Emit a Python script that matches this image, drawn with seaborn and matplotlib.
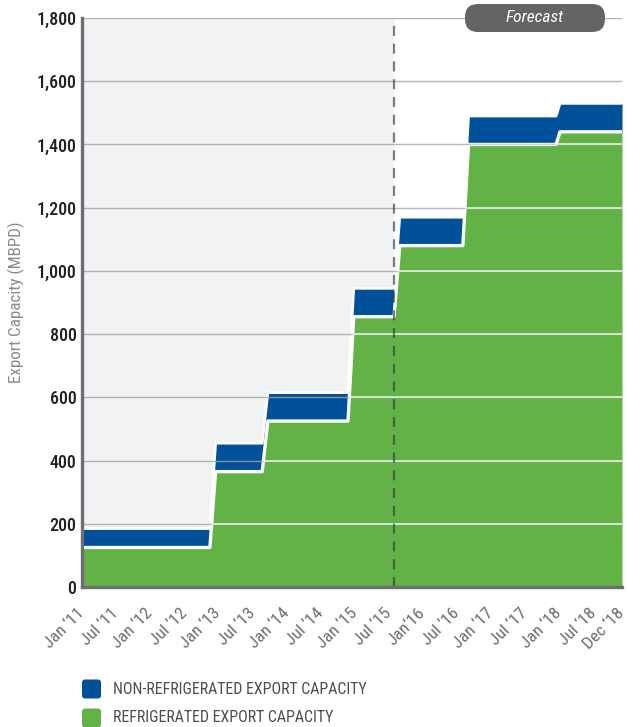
import matplotlib
matplotlib.use("Agg")
import matplotlib.pyplot as plt
import matplotlib.patches as mpatches
from matplotlib.transforms import IdentityTransform
import pandas as pd
import seaborn as sns

# Build-out timeline, in months after January 2011
months = [0, 22.5, 23.5, 31.7, 32.7, 46.8, 47.8, 54.9, 55.9, 67.0, 68.0, 83.4, 84.1, 95]
refrigerated = [125, 125, 365, 365, 525, 525, 855, 855, 1080, 1080, 1400, 1400, 1440, 1440]
non_refrigerated = [60, 60, 90, 90, 90, 90, 90, 90, 90, 90, 90, 90, 90, 90]

forecast_start = 54.9

tick_months = [0, 6, 12, 18, 24, 30, 36, 42, 48, 54, 60, 66, 72, 78, 84, 90, 95]
tick_labels = ["Jan \u201811", "Jul \u201811", "Jan \u201812", "Jul \u201812", "Jan \u201813",
               "Jul \u201813", "Jan \u201814", "Jul \u201814", "Jan \u201815", "Jul \u201815",
               "Jan\u201816", "Jul \u201816", "Jan \u201817", "Jul \u201817", "Jan \u201818",
               "Jul \u201818", "Dec \u201818"]
y_ticks = [0, 200, 400, 600, 800, 1000, 1200, 1400, 1600, 1800]

series_names = ["NON-REFRIGERATED EXPORT CAPACITY", "REFRIGERATED EXPORT CAPACITY"]
BLUE = "#00509A"
GREEN = "#63B246"
AXIS_GREY = "#6D6E71"

sns.set_theme(style="white")
plt.rcParams["font.family"] = ["Roboto Condensed", "DejaVu Sans"]

df = pd.DataFrame({"month": months, "refrigerated": refrigerated,
                   "non_refrigerated": non_refrigerated})
df["total"] = df["refrigerated"] + df["non_refrigerated"]

fig = plt.figure(figsize=(6.27, 7.27), dpi=100)
ax = fig.add_axes([82 / 627, 140 / 727, 540 / 627, 569 / 727])

# historical period shading
ax.axvspan(0, forecast_start, color="#F1F2F4", zorder=0, lw=0)

green_area = ax.fill_between(df["month"], 0, df["refrigerated"], color=GREEN, lw=0, zorder=2)
ax.fill_between(df["month"], df["refrigerated"], df["total"], color=BLUE, lw=0, zorder=2)

# white outlines along the area tops
sns.lineplot(data=df, x="month", y="refrigerated", color="white", lw=2.4, ax=ax, zorder=3)
sns.lineplot(data=df, x="month", y="total", color="white", lw=2.0, ax=ax, zorder=3)

# grid: grey over the background, white over the green area
for yv in y_ticks[1:]:
    ax.axhline(yv, color="#A3A4A6", lw=1.0, zorder=4, alpha=0.8)
    wl = ax.axhline(yv, color="white", lw=1.2, zorder=5, alpha=0.8)
    wl.set_clip_path(green_area.get_paths()[0], ax.transData)

ax.axvline(forecast_start, color="#3A3A3A", lw=1.6, ls=(0, (4.5, 3.5)), alpha=0.65, zorder=6)

ax.set_xlim(0, 95)
ax.set_ylim(0, 1800)
ax.set_yticks(y_ticks)
ax.set_yticklabels([f"{v:,}" for v in y_ticks], fontsize=13, fontweight=500, color="#231F20")
ax.set_xticks(tick_months)
ax.set_xticklabels(tick_labels, rotation=45, ha="right", va="center",
                   rotation_mode="anchor", fontsize=12.5, color=AXIS_GREY)
ax.tick_params(axis="y", length=0, pad=4)
ax.tick_params(axis="x", length=7, width=1.8, color=AXIS_GREY, pad=10, direction="out")
ax.set_xlabel("")
ax.set_ylabel("Export Capacity (MBPD)", fontsize=12.3, color="#8A8B8D")
ax.yaxis.set_label_coords(-0.105, 0.5)

for side in ("top", "right"):
    ax.spines[side].set_visible(False)
for side in ("left", "bottom"):
    ax.spines[side].set_color(AXIS_GREY)
    ax.spines[side].set_linewidth(2.4)
    ax.spines[side].set_zorder(7)

# "Forecast" tag on the top gridline
tag = mpatches.FancyBboxPatch((465, 727 - 32), 140, 28,
                              boxstyle="round,pad=0,rounding_size=13",
                              transform=IdentityTransform(), facecolor="#636466",
                              edgecolor="none", zorder=10)
fig.add_artist(tag)
fig.text(535 / 627, (727 - 18) / 727, "Forecast", color="white", fontsize=12.5,
         style="italic", ha="center", va="center", zorder=11)

# legend rows
for i, (name, col) in enumerate(zip(series_names, [BLUE, GREEN])):
    cy = 689 + i * 29
    sq = mpatches.FancyBboxPatch((82, 727 - cy - 9.5), 19, 19,
                                 boxstyle="round,pad=0,rounding_size=3",
                                 transform=IdentityTransform(), facecolor=col,
                                 edgecolor="none")
    fig.add_artist(sq)
    fig.text(113 / 627, (727 - cy) / 727, name, color="#4D4D4F", fontsize=11.4,
             ha="left", va="center")

fig.savefig("out.png", dpi=100)
